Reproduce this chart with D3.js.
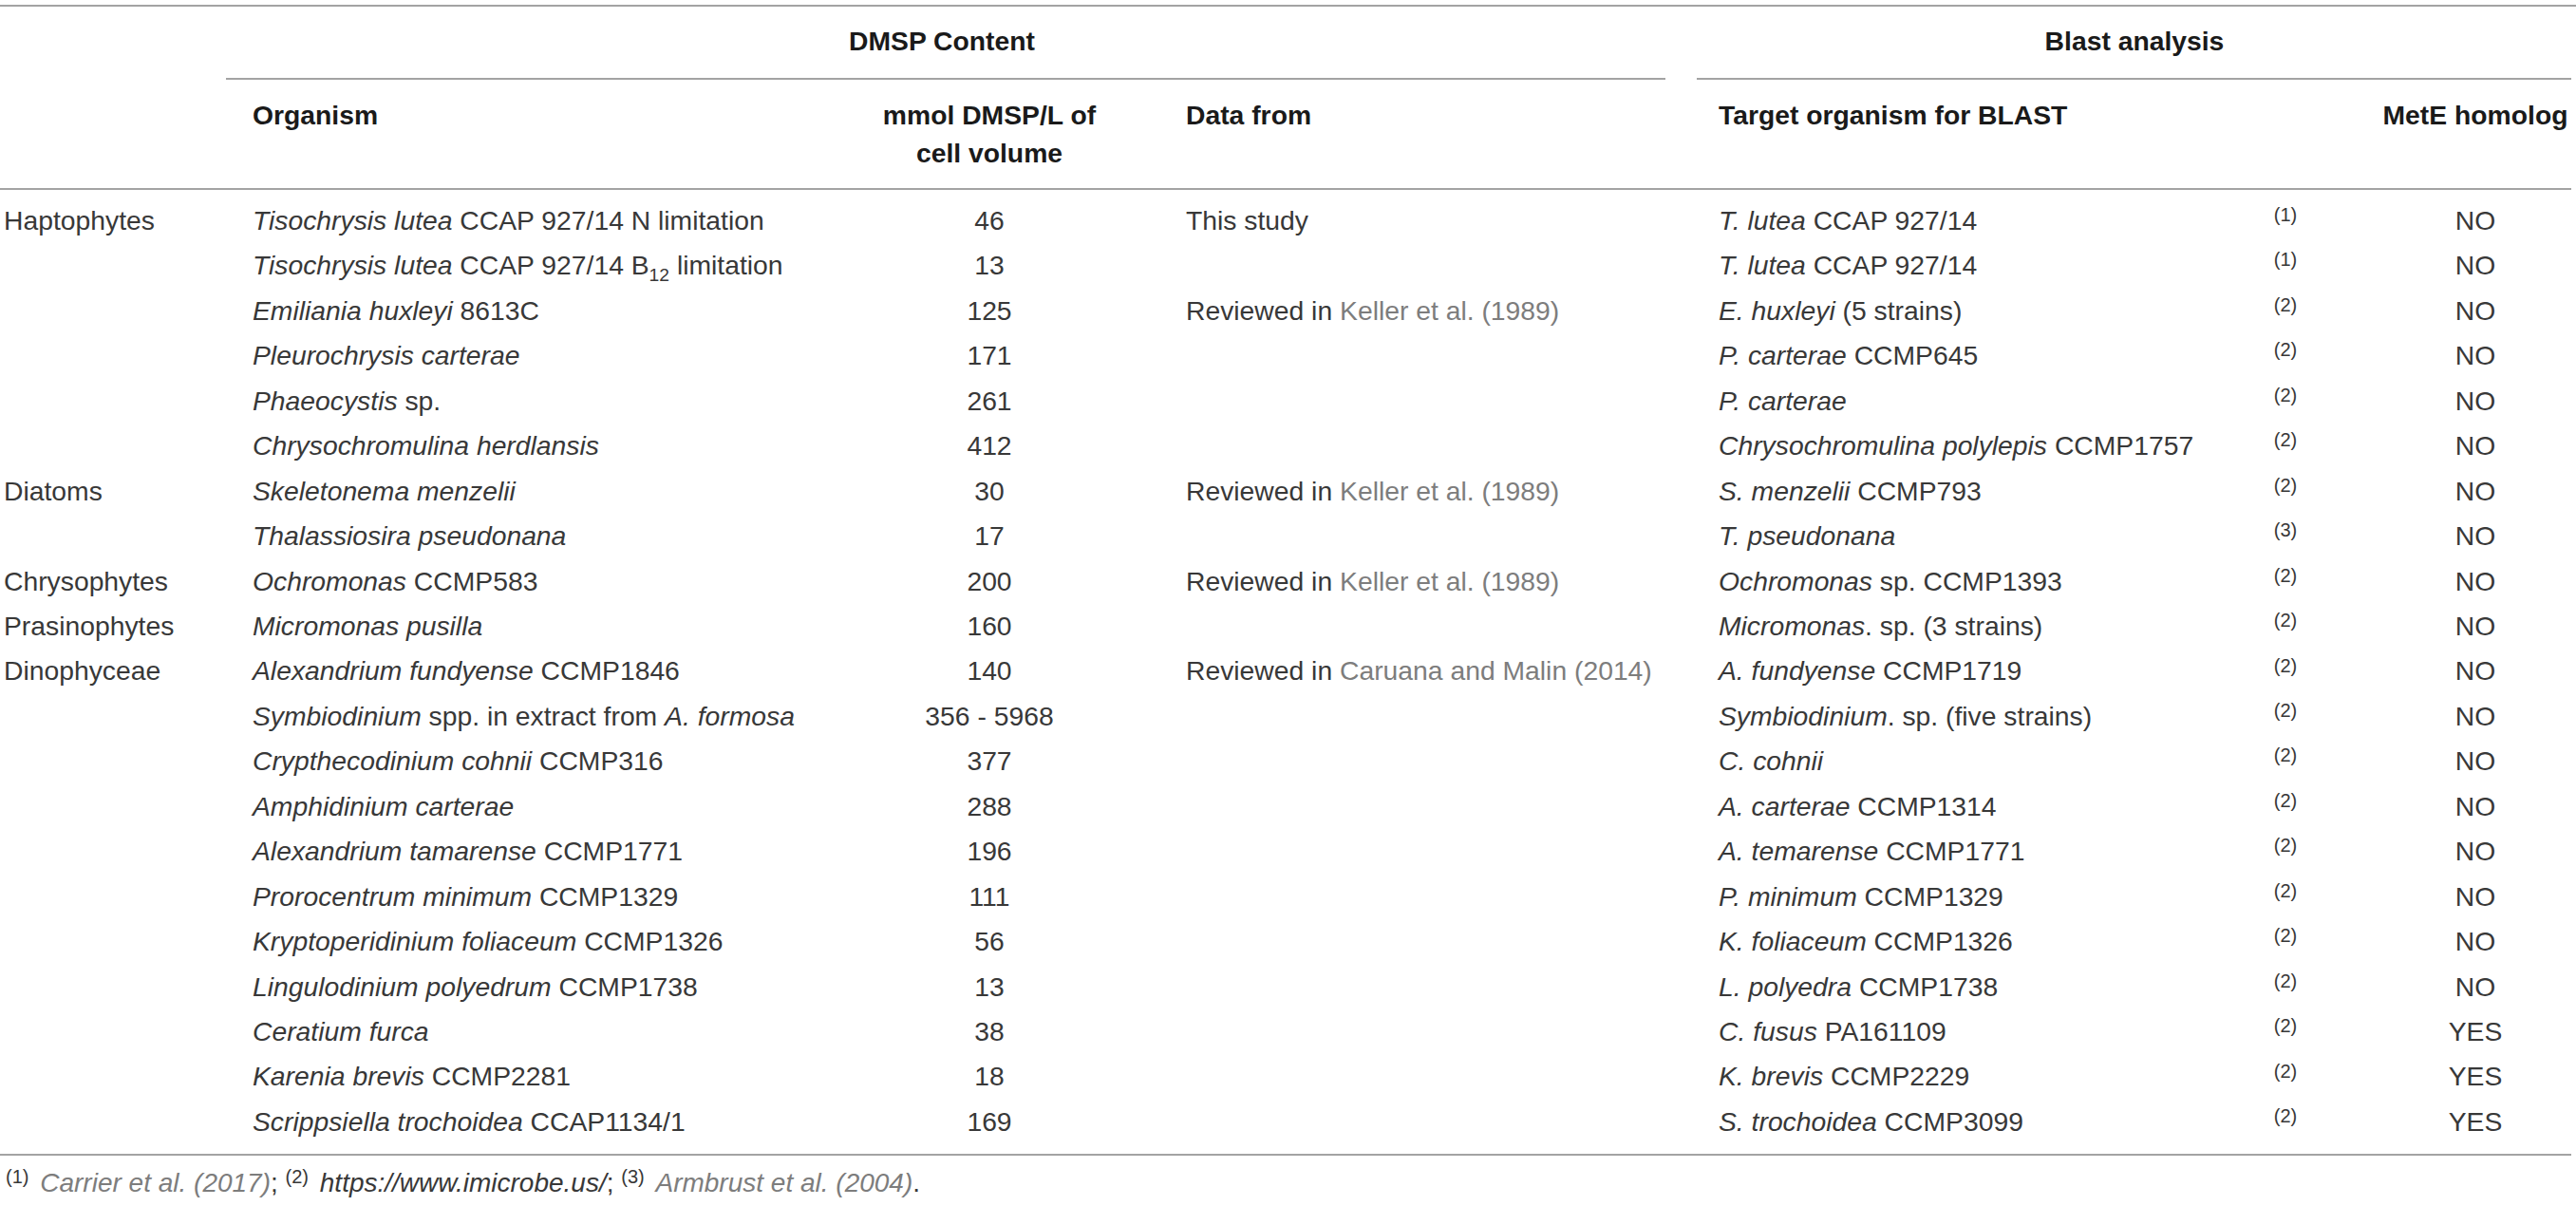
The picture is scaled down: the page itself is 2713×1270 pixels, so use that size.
<!DOCTYPE html>
<html>
<head>
<meta charset="utf-8">
<script src="https://cdn.jsdelivr.net/npm/d3@7/dist/d3.min.js"></script>
<style>
  html, body { margin: 0; padding: 0; background: #fff; }
  svg { display: block; }
  text { white-space: pre; }
</style>
</head>
<body>
<script>
// ---- DATA ----
// markup: *italic*, [grey citation], _{subscript}, ^{superscript}
const groups = ["Haptophytes", "", "", "", "", "", "Diatoms", "", "Chrysophytes", "Prasinophytes", "Dinophyceae",
  "", "", "", "", "", "", "", "", "", ""];

const organisms = [
  "*Tisochrysis lutea* CCAP 927/14 N limitation",
  "*Tisochrysis lutea* CCAP 927/14 B_{12} limitation",
  "*Emiliania huxleyi* 8613C",
  "*Pleurochrysis carterae*",
  "*Phaeocystis* sp.",
  "*Chrysochromulina herdlansis*",
  "*Skeletonema menzelii*",
  "*Thalassiosira pseudonana*",
  "*Ochromonas* CCMP583",
  "*Micromonas pusilla*",
  "*Alexandrium fundyense* CCMP1846",
  "*Symbiodinium* spp. in extract from *A. formosa*",
  "*Crypthecodinium cohnii* CCMP316",
  "*Amphidinium carterae*",
  "*Alexandrium tamarense* CCMP1771",
  "*Prorocentrum minimum* CCMP1329",
  "*Kryptoperidinium foliaceum* CCMP1326",
  "*Lingulodinium polyedrum* CCMP1738",
  "*Ceratium furca*",
  "*Karenia brevis* CCMP2281",
  "*Scrippsiella trochoidea* CCAP1134/1"
];

const dmspContent = ["46", "13", "125", "171", "261", "412", "30", "17", "200", "160", "140", "356 - 5968",
  "377", "288", "196", "111", "56", "13", "38", "18", "169"];

const dataFrom = ["This study", "", "Reviewed in [Keller et al. (1989)]", "", "", "",
  "Reviewed in [Keller et al. (1989)]", "", "Reviewed in [Keller et al. (1989)]", "",
  "Reviewed in [Caruana and Malin (2014)]", "", "", "", "", "", "", "", "", "", ""];

const targets = [
  "*T. lutea* CCAP 927/14",
  "*T. lutea* CCAP 927/14",
  "*E. huxleyi* (5 strains)",
  "*P. carterae* CCMP645",
  "*P. carterae*",
  "*Chrysochromulina polylepis* CCMP1757",
  "*S. menzelii* CCMP793",
  "*T. pseudonana*",
  "*Ochromonas* sp. CCMP1393",
  "*Micromonas*. sp. (3 strains)",
  "*A. fundyense* CCMP1719",
  "*Symbiodinium*. sp. (five strains)",
  "*C. cohnii*",
  "*A. carterae* CCMP1314",
  "*A. temarense* CCMP1771",
  "*P. minimum* CCMP1329",
  "*K. foliaceum* CCMP1326",
  "*L. polyedra* CCMP1738",
  "*C. fusus* PA161109",
  "*K. brevis* CCMP2229",
  "*S. trochoidea* CCMP3099"
];

const refs = ["(1)", "(1)", "(2)", "(2)", "(2)", "(2)", "(2)", "(3)", "(2)", "(2)", "(2)", "(2)",
  "(2)", "(2)", "(2)", "(2)", "(2)", "(2)", "(2)", "(2)", "(2)"];

const metE = ["NO", "NO", "NO", "NO", "NO", "NO", "NO", "NO", "NO", "NO", "NO", "NO",
  "NO", "NO", "NO", "NO", "NO", "NO", "YES", "YES", "YES"];

const spanHeaders = ["DMSP Content", "Blast analysis"];
const colHeaders = ["Organism", "mmol DMSP/L of|cell volume", "Data from", "Target organism for BLAST", "MetE homolog"];
const footnote = "^{(1)} [*Carrier et al. (2017)*]; ^{(2)} *https://www.imicrobe.us/*; ^{(3)} [*Armbrust et al. (2004)*].";

// ---- LAYOUT / STYLE ----
const W = 2713, H = 1270;
const FONT = "'Liberation Sans', Arial, Helvetica, sans-serif";
const FS = 28.3;
const FN_FS = 28;
const SUP_FS = 20;
const TEXT = "#383838", HEAD = "#1a1a1a", LINK = "#7d7d7d", RULE = "#a3a3a3";

const col = {
  group: 4, organism: 266, dmsp: 1042, source: 1249, target: 1810, ref: 2407, metE: 2607
};

const svg = d3.select("body").append("svg").attr("width", W).attr("height", H)
  .style("font-family", FONT);

const rowIdx = d3.range(organisms.length);
const y = d3.scalePoint().domain(rowIdx).range([232, 1181]);

// parse markup into segments
function parse(str) {
  const segs = [];
  let italic = false, link = false, mode = null, buf = "";
  const flush = () => { if (buf) segs.push({ t: buf, italic, link, mode }); buf = ""; };
  for (let i = 0; i < str.length; i++) {
    const c = str[i];
    if (c === "*") { flush(); italic = !italic; }
    else if (c === "[") { flush(); link = true; }
    else if (c === "]") { flush(); link = false; }
    else if ((c === "_" || c === "^") && str[i + 1] === "{") { flush(); mode = c === "_" ? "sub" : "sup"; i++; }
    else if (c === "}" && mode) { flush(); mode = null; }
    else buf += c;
  }
  flush();
  return segs;
}

function rich(sel, str, baseFill, fs, supFs, supShift, gap) {
  const segs = parse(str);
  let shift = 0, prevSup = false;
  segs.forEach(s => {
    const target = s.mode === "sub" ? 7 : s.mode === "sup" ? supShift : 0;
    sel.append("tspan")
      .attr("dy", target - shift)
      .attr("dx", prevSup ? gap : 0)
      .style("font-style", s.italic ? "italic" : "normal")
      .attr("fill", s.link ? LINK : baseFill)
      .attr("font-size", s.mode ? supFs : fs)
      .text(s.t);
    shift = target;
    prevSup = s.mode === "sup";
  });
}

// rules
const rules = [
  { x1: 0, x2: W, y: 6 },
  { x1: 238, x2: 1754, y: 83 },
  { x1: 1787, x2: 2708, y: 83 },
  { x1: 0, x2: 2708, y: 199 },
  { x1: 0, x2: 2708, y: 1216 }
];
svg.selectAll("line.rule").data(rules).join("line")
  .attr("x1", d => d.x1).attr("x2", d => d.x2)
  .attr("y1", d => d.y).attr("y2", d => d.y)
  .attr("stroke", RULE).attr("stroke-width", 2);

// spanning headers
const spanX = [992, 2248];
svg.selectAll("text.span").data(spanHeaders).join("text")
  .attr("x", (d, i) => spanX[i]).attr("y", 43 + FS * 0.35)
  .attr("text-anchor", "middle").attr("font-weight", "bold").attr("font-size", FS)
  .attr("fill", HEAD).text(d => d);

// column headers
const headPos = [
  { x: col.organism, anchor: "start" },
  { x: col.dmsp, anchor: "middle" },
  { x: col.source, anchor: "start" },
  { x: col.target, anchor: "start" },
  { x: col.metE, anchor: "middle" }
];
colHeaders.forEach((h, i) => {
  h.split("|").forEach((line, k) => {
    svg.append("text")
      .attr("x", headPos[i].x).attr("y", 121 + k * 40 + FS * 0.35)
      .attr("text-anchor", headPos[i].anchor)
      .attr("font-weight", "bold").attr("font-size", FS).attr("fill", HEAD)
      .text(line);
  });
});

// body rows
const BASE = FS * 0.35;
const rows = svg.selectAll("g.row").data(rowIdx).join("g").attr("class", "row")
  .attr("transform", i => `translate(0,${y(i)})`);

rows.append("text").attr("x", col.group).attr("y", BASE)
  .attr("font-size", FS).attr("fill", TEXT).text(i => groups[i]);

rows.append("text").attr("x", col.organism).attr("y", BASE).attr("font-size", FS)
  .each(function (i) { rich(d3.select(this), organisms[i], TEXT, FS, FS * 0.68, -11, 0); });

rows.append("text").attr("x", col.dmsp).attr("y", BASE).attr("text-anchor", "middle")
  .attr("font-size", FS).attr("fill", TEXT).text(i => dmspContent[i]);

rows.append("text").attr("x", col.source).attr("y", BASE).attr("font-size", FS)
  .each(function (i) { rich(d3.select(this), dataFrom[i], TEXT, FS, FS * 0.68, -11, 0); });

rows.append("text").attr("x", col.target).attr("y", BASE).attr("font-size", FS)
  .each(function (i) { rich(d3.select(this), targets[i], TEXT, FS, FS * 0.68, -11, 0); });

rows.append("text").attr("x", col.ref).attr("y", -6 + SUP_FS * 0.35).attr("text-anchor", "middle")
  .attr("font-size", SUP_FS).attr("fill", TEXT).text(i => refs[i]);

rows.append("text").attr("x", col.metE).attr("y", BASE).attr("text-anchor", "middle")
  .attr("font-size", FS).attr("fill", TEXT).text(i => metE[i]);

// footnote
const fn = svg.append("text").attr("x", 6).attr("y", 1245 + FN_FS * 0.35).attr("font-size", FN_FS);
rich(fn, footnote, TEXT, FN_FS, 20, -9, 4);
</script>
</body>
</html>
